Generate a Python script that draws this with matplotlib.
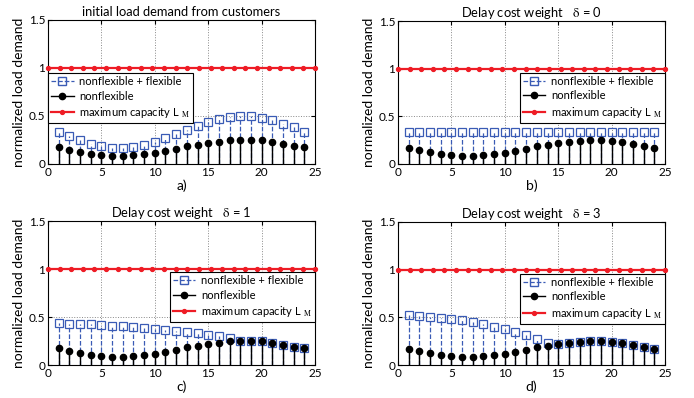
import matplotlib
matplotlib.use('Agg')
import matplotlib.pyplot as plt
from matplotlib.lines import Line2D
import numpy as np

plt.rcParams['font.family'] = ['Lato', 'DejaVu Sans']
plt.rcParams['mathtext.fontset'] = 'stix'

hours = list(range(1, 25))

# nonflexible load (same in every panel)
nonflex = [0.173, 0.142, 0.121, 0.104, 0.094, 0.087, 0.087, 0.090, 0.100, 0.114,
           0.139, 0.156, 0.184, 0.197, 0.218, 0.232, 0.246, 0.253, 0.250, 0.246,
           0.229, 0.211, 0.190, 0.173]

# nonflexible + flexible
total_a = [0.336, 0.288, 0.246, 0.211, 0.184, 0.170, 0.166, 0.180, 0.197, 0.225,
           0.270, 0.308, 0.357, 0.398, 0.440, 0.471, 0.492, 0.499, 0.495, 0.482,
           0.454, 0.419, 0.381, 0.333]
total_b = [0.334] * 24
total_c = [0.434, 0.431, 0.427, 0.424, 0.417, 0.410, 0.403, 0.396, 0.389, 0.378,
           0.368, 0.358, 0.347, 0.330, 0.316, 0.302, 0.285, 0.253, 0.250, 0.246,
           0.229, 0.211, 0.190, 0.173]
total_d = [0.526, 0.519, 0.508, 0.498, 0.487, 0.470, 0.449, 0.428, 0.403, 0.378,
           0.347, 0.315, 0.273, 0.231, 0.218, 0.232, 0.246, 0.253, 0.250, 0.246,
           0.229, 0.211, 0.190, 0.173]

capacity_x = np.linspace(0, 25, 24)
capacity = [1.0] * 24

titles = ['initial load demand from customers',
          r'Delay cost weight   $\mathrm{\delta}$ = 0',
          r'Delay cost weight   $\mathrm{\delta}$ = 1',
          r'Delay cost weight   $\mathrm{\delta}$ = 3']
xlabels = ['a)', 'b)', 'c)', 'd)']
totals = [total_a, total_b, total_c, total_d]

blue = '#3a5bb5'
red = '#ee1c25'

fig = plt.figure(figsize=(6.94, 3.98), dpi=100)
W, H = 694.0, 398.0
boxes = [(48, 20, 315, 164), (398, 21, 665, 164),
         (48, 221, 315, 365), (398, 222, 665, 365)]
leg_pos = [('upper left', (0.0, 0.632)), ('upper right', (1.0, 0.639)),
           ('upper right', (1.0, 0.646)), ('upper right', (1.0, 0.639))]

for i in range(4):
    x0, y0, x1, y1 = boxes[i]
    ax = fig.add_axes([x0 / W, 1 - y1 / H, (x1 - x0) / W, (y1 - y0) / H])

    # stems
    m, s, b = ax.stem(hours, totals[i], linefmt='--', markerfmt='s', basefmt=' ')
    plt.setp(s, color=blue, linewidth=0.9)
    plt.setp(m, color=blue, markerfacecolor='none', markersize=5.5, markeredgewidth=0.9)
    m, s, b = ax.stem(hours, nonflex, linefmt='-', markerfmt='o', basefmt=' ')
    plt.setp(s, color='black', linewidth=1.0)
    plt.setp(m, color='black', markersize=4.5)

    ax.plot(capacity_x, capacity, color=red, linewidth=1.6, marker='o', markersize=2.8,
            clip_on=False, zorder=3)

    ax.set_xlim(0, 25)
    ax.set_ylim(0, 1.5)
    ax.set_xticks([0, 5, 10, 15, 20, 25])
    ax.set_yticks([0, 0.5, 1, 1.5])
    ax.set_yticklabels(['0', '0.5', '1', '1.5'])
    ax.grid(True, linestyle=':', color='#888888', linewidth=0.7)
    ax.set_axisbelow(True)
    ax.tick_params(direction='in', labelsize=8.5, length=3, top=True, right=True, pad=2)
    ax.set_title(titles[i], fontsize=9.3, pad=3)
    ax.set_xlabel(xlabels[i], fontsize=10, labelpad=1)
    ax.set_ylabel('normalized load demand', fontsize=10, labelpad=3)

    handles = [Line2D([0], [0], color=blue, linestyle='--', linewidth=0.9, marker='s',
                      markerfacecolor='none', markersize=5.5),
               Line2D([0], [0], color='black', linewidth=1.0, marker='o', markersize=4.5),
               Line2D([0], [0], color=red, linewidth=1.6, marker='o', markersize=2.8)]
    labels = ['nonflexible + flexible', 'nonflexible', r'maximum capacity L $_{\mathrm{M}}$']
    loc, anchor = leg_pos[i]
    leg = ax.legend(handles, labels, loc=loc, bbox_to_anchor=anchor, borderaxespad=0,
                    fontsize=8, fancybox=False, edgecolor='black', framealpha=1,
                    handlelength=2.0, handletextpad=0.5, borderpad=0.3, labelspacing=0.3)
    leg.get_frame().set_linewidth(0.8)

fig.savefig('out.png', dpi=100, facecolor='white')
